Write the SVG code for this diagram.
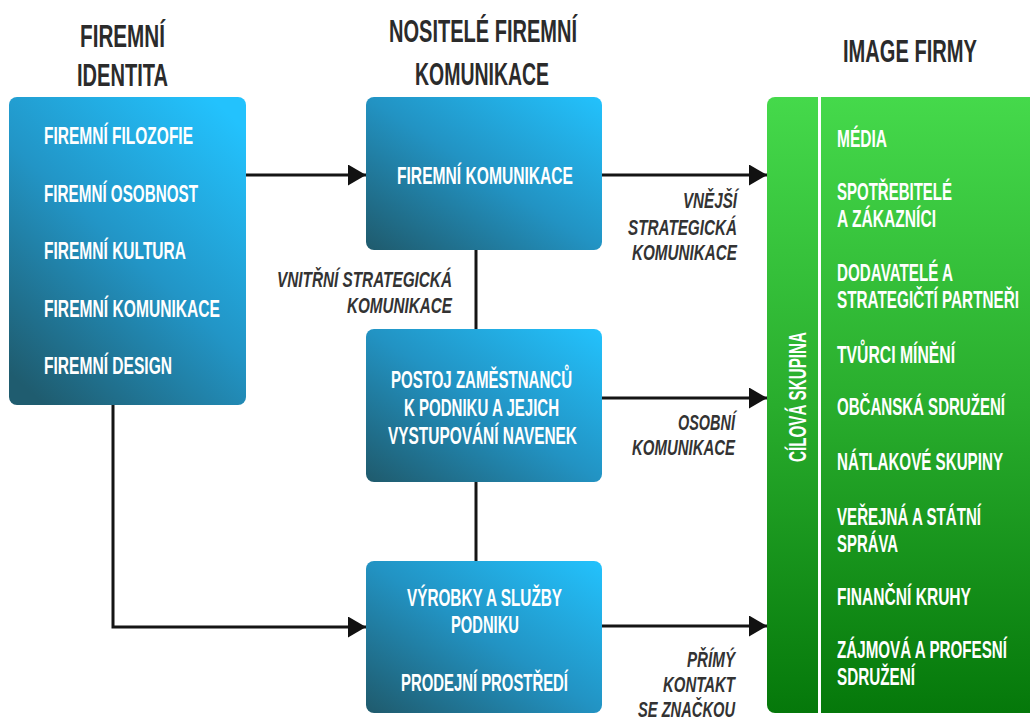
<svg xmlns="http://www.w3.org/2000/svg" width="1030" height="720" viewBox="0 0 1030 720">
  <defs>
    <linearGradient id="blueTall" x1="0.85" y1="0" x2="0.15" y2="1">
      <stop offset="0" stop-color="#23c2fd"/>
      <stop offset="0.5" stop-color="#2295c6"/>
      <stop offset="1" stop-color="#1f5c6f"/>
    </linearGradient>
    <linearGradient id="blueBox" x1="1" y1="0" x2="0" y2="1">
      <stop offset="0" stop-color="#23c2fd"/>
      <stop offset="0.5" stop-color="#2293c3"/>
      <stop offset="1" stop-color="#1f5a6c"/>
    </linearGradient>
    <linearGradient id="green" x1="0" y1="0" x2="0" y2="1">
      <stop offset="0" stop-color="#45d94b"/>
      <stop offset="0.5" stop-color="#29ad2d"/>
      <stop offset="1" stop-color="#05780a"/>
    </linearGradient>
    <marker id="arrow" markerUnits="userSpaceOnUse" markerWidth="19" markerHeight="21" refX="18" refY="10.5" orient="auto">
      <path d="M0,0 L18,10.5 L0,21 z" fill="#111"/>
    </marker>
    <style>
      .t { font-family: "Liberation Sans", Arial, sans-serif; font-weight: 700; }
      .head { font-size: 32px; fill: #2b2b2b; text-anchor: middle; }
      .item { font-size: 24px; fill: #ffffff; }
      .mid { font-size: 24px; fill: #ffffff; text-anchor: middle; }
      .green-item { font-size: 23px; fill: #ffffff; }
      .lbl { font-size: 22px; fill: #333333; font-style: italic; text-anchor: end; }
      .wire { stroke: #151515; stroke-width: 3; fill: none; }
    </style>
  </defs>

  <rect width="1030" height="720" fill="#ffffff"/>

  <!-- column headings -->
  <g id="headings" class="t">
    <text class="head" x="122.5" y="47" textLength="85" lengthAdjust="spacingAndGlyphs">FIREMNÍ</text>
    <text class="head" x="122.5" y="86" textLength="91" lengthAdjust="spacingAndGlyphs">IDENTITA</text>
    <text class="head" x="483" y="42" textLength="188" lengthAdjust="spacingAndGlyphs">NOSITELÉ FIREMNÍ</text>
    <text class="head" x="482" y="85" textLength="134" lengthAdjust="spacingAndGlyphs">KOMUNIKACE</text>
    <text class="head" x="910" y="62" textLength="134" lengthAdjust="spacingAndGlyphs">IMAGE FIRMY</text>
  </g>

  <!-- connectors -->
  <g id="connectors">
    <line class="wire" x1="246" y1="175" x2="366" y2="175" marker-end="url(#arrow)"/>
    <polyline class="wire" points="113,405 113,627 366,627" marker-end="url(#arrow)"/>
    <line class="wire" x1="602" y1="175" x2="767" y2="175" marker-end="url(#arrow)"/>
    <line class="wire" x1="602" y1="398" x2="767" y2="398" marker-end="url(#arrow)"/>
    <line class="wire" x1="602" y1="626" x2="767" y2="626" marker-end="url(#arrow)"/>
    <line class="wire" x1="476" y1="250" x2="476" y2="329"/>
    <line class="wire" x1="476" y1="482" x2="476" y2="561"/>
  </g>

  <!-- connector labels -->
  <g id="connector-labels" class="t">
    <text class="lbl" x="452" y="287" textLength="175" lengthAdjust="spacingAndGlyphs">VNITŘNÍ STRATEGICKÁ</text>
    <text class="lbl" x="452" y="313" textLength="105" lengthAdjust="spacingAndGlyphs">KOMUNIKACE</text>
    <text class="lbl" x="737" y="208" textLength="54" lengthAdjust="spacingAndGlyphs">VNĚJŠÍ</text>
    <text class="lbl" x="737" y="235" textLength="109" lengthAdjust="spacingAndGlyphs">STRATEGICKÁ</text>
    <text class="lbl" x="737" y="260" textLength="105" lengthAdjust="spacingAndGlyphs">KOMUNIKACE</text>
    <text class="lbl" x="735" y="430" textLength="57" lengthAdjust="spacingAndGlyphs">OSOBNÍ</text>
    <text class="lbl" x="735" y="455" textLength="103" lengthAdjust="spacingAndGlyphs">KOMUNIKACE</text>
    <text class="lbl" x="735" y="667" textLength="48" lengthAdjust="spacingAndGlyphs">PŘÍMÝ</text>
    <text class="lbl" x="735" y="692" textLength="72" lengthAdjust="spacingAndGlyphs">KONTAKT</text>
    <text class="lbl" x="735" y="717" textLength="97" lengthAdjust="spacingAndGlyphs">SE ZNAČKOU</text>
  </g>

  <!-- corporate identity -->
  <g id="identity" class="t">
    <rect x="9" y="97" width="237" height="308" rx="8" fill="url(#blueTall)"/>
    <text class="item" x="44" y="144" textLength="149" lengthAdjust="spacingAndGlyphs">FIREMNÍ FILOZOFIE</text>
    <text class="item" x="44" y="202" textLength="154" lengthAdjust="spacingAndGlyphs">FIREMNÍ OSOBNOST</text>
    <text class="item" x="44" y="259" textLength="142" lengthAdjust="spacingAndGlyphs">FIREMNÍ KULTURA</text>
    <text class="item" x="44" y="317" textLength="176" lengthAdjust="spacingAndGlyphs">FIREMNÍ KOMUNIKACE</text>
    <text class="item" x="44" y="374" textLength="128" lengthAdjust="spacingAndGlyphs">FIREMNÍ DESIGN</text>
  </g>

  <!-- carriers of communication -->
  <g id="communication" class="t">
    <rect x="366" y="97" width="236" height="153" rx="8" fill="url(#blueBox)"/>
    <text class="mid" x="485" y="184" textLength="176" lengthAdjust="spacingAndGlyphs">FIREMNÍ KOMUNIKACE</text>
  </g>

  <g id="employees" class="t">
    <rect x="366" y="329" width="236" height="153" rx="8" fill="url(#blueBox)"/>
    <text class="mid" x="481.5" y="388" textLength="181" lengthAdjust="spacingAndGlyphs">POSTOJ ZAMĚSTNANCŮ</text>
    <text class="mid" x="481.5" y="416" textLength="155" lengthAdjust="spacingAndGlyphs">K PODNIKU A JEJICH</text>
    <text class="mid" x="482.5" y="444" textLength="189" lengthAdjust="spacingAndGlyphs">VYSTUPOVÁNÍ NAVENEK</text>
  </g>

  <g id="products" class="t">
    <rect x="366" y="561" width="236" height="152" rx="8" fill="url(#blueBox)"/>
    <text class="mid" x="484.5" y="606" textLength="155" lengthAdjust="spacingAndGlyphs">VÝROBKY A SLUŽBY</text>
    <text class="mid" x="485" y="633" textLength="68" lengthAdjust="spacingAndGlyphs">PODNIKU</text>
    <text class="mid" x="484.5" y="691" textLength="167" lengthAdjust="spacingAndGlyphs">PRODEJNÍ PROSTŘEDÍ</text>
  </g>

  <!-- corporate image / target groups -->
  <g id="image" class="t">
    <rect x="767" y="97" width="290" height="616" rx="8" fill="url(#green)"/>
    <line x1="819.5" y1="97" x2="819.5" y2="713" stroke="#ffffff" stroke-width="3"/>
    <text class="item" x="0" y="0" transform="translate(806,397) rotate(-90)" text-anchor="middle" font-size="23" textLength="130" lengthAdjust="spacingAndGlyphs">CÍLOVÁ SKUPINA</text>
    <text class="green-item" x="837" y="147" textLength="50" lengthAdjust="spacingAndGlyphs">MÉDIA</text>
    <text class="green-item" x="837" y="200" textLength="115" lengthAdjust="spacingAndGlyphs">SPOTŘEBITELÉ</text>
    <text class="green-item" x="837" y="227" textLength="99" lengthAdjust="spacingAndGlyphs">A ZÁKAZNÍCI</text>
    <text class="green-item" x="837" y="281" textLength="116" lengthAdjust="spacingAndGlyphs">DODAVATELÉ A</text>
    <text class="green-item" x="837" y="308" textLength="182" lengthAdjust="spacingAndGlyphs">STRATEGIČTÍ PARTNEŘI</text>
    <text class="green-item" x="837" y="363" textLength="118" lengthAdjust="spacingAndGlyphs">TVŮRCI MÍNĚNÍ</text>
    <text class="green-item" x="837" y="415" textLength="168" lengthAdjust="spacingAndGlyphs">OBČANSKÁ SDRUŽENÍ</text>
    <text class="green-item" x="837" y="470" textLength="166" lengthAdjust="spacingAndGlyphs">NÁTLAKOVÉ SKUPINY</text>
    <text class="green-item" x="837" y="525" textLength="144" lengthAdjust="spacingAndGlyphs">VEŘEJNÁ A STÁTNÍ</text>
    <text class="green-item" x="837" y="552" textLength="61" lengthAdjust="spacingAndGlyphs">SPRÁVA</text>
    <text class="green-item" x="837" y="605" textLength="134" lengthAdjust="spacingAndGlyphs">FINANČNÍ KRUHY</text>
    <text class="green-item" x="837" y="658" textLength="170" lengthAdjust="spacingAndGlyphs">ZÁJMOVÁ A PROFESNÍ</text>
    <text class="green-item" x="837" y="685" textLength="78" lengthAdjust="spacingAndGlyphs">SDRUŽENÍ</text>
  </g>
</svg>
